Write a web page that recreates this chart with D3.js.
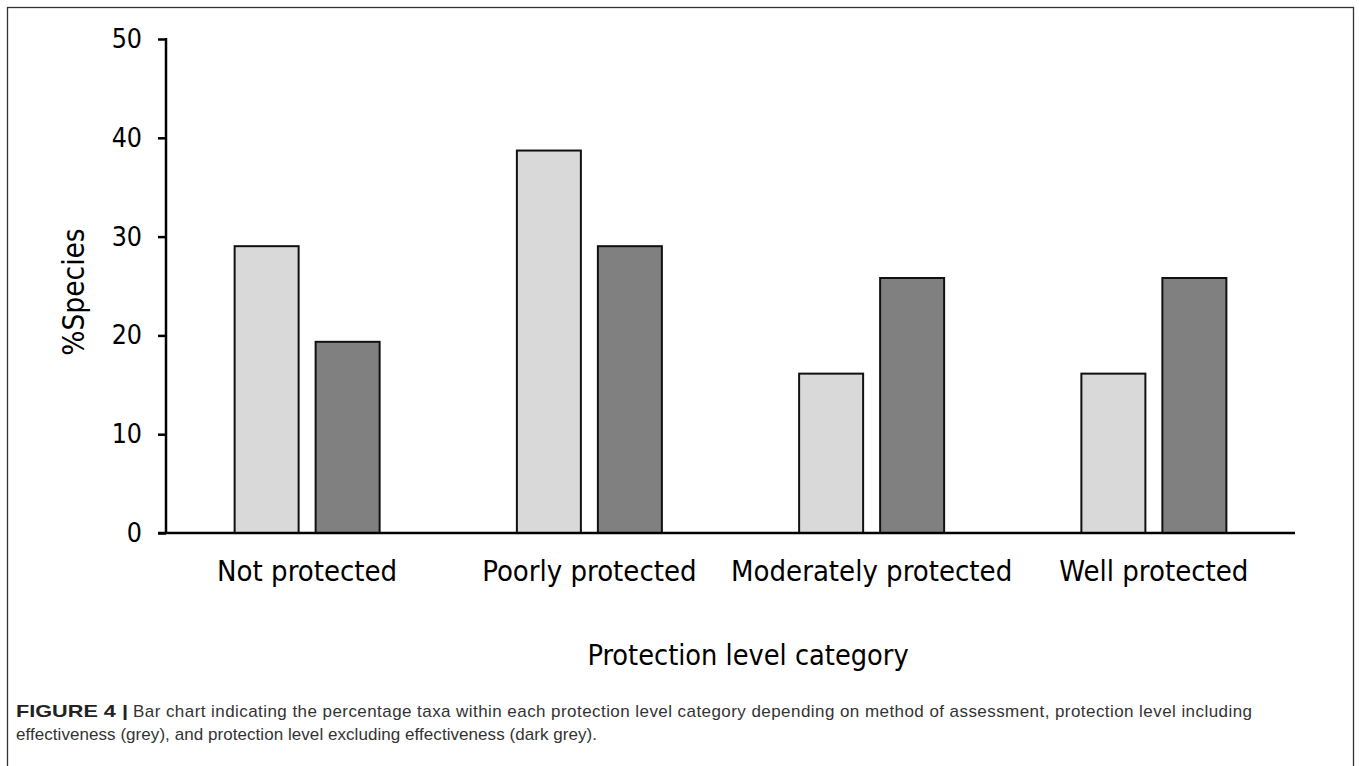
<!DOCTYPE html>
<html><head><meta charset="utf-8">
<script src="https://cdn.jsdelivr.net/npm/d3@7"></script>
<style>
body{margin:0;background:#fff;}
svg{display:block;}
.ax text{font-family:"DejaVu Sans Condensed","DejaVu Sans",sans-serif;}
</style></head>
<body><svg id="c" width="1359" height="766"></svg>
<script>
const categories = ["Not protected","Poorly protected","Moderately protected","Well protected"];
const seriesNames = ["Including effectiveness","Excluding effectiveness"];
const including = [29.03, 38.71, 16.13, 16.13];
const excluding = [19.35, 29.03, 25.81, 25.81];
const yTicks = [0,10,20,30,40,50];
const colors = ["#d9d9d9","#808080"];

const svg = d3.select("#c");
// frame
svg.append("rect").attr("x",7.5).attr("y",7.5).attr("width",1346).attr("height",780)
  .attr("fill","none").attr("stroke","#333").attr("stroke-width",1.3);

const x0 = 166, x1 = 1295, yTop = 39, yBot = 533;
const x = d3.scaleBand().domain(categories).range([x0,x1]).padding(0);
const y = d3.scaleLinear().domain([0,50]).range([yBot,yTop]);
const barW = 64, gap = 17;

const g = svg.append("g");
categories.forEach((c,i)=>{
  const cx = x(c) + x.bandwidth()/2;
  const vals = [including[i], excluding[i]];
  vals.forEach((v,j)=>{
    const bx = j===0 ? cx - gap/2 - barW : cx + gap/2;
    g.append("rect").attr("x",bx).attr("y",y(v)).attr("width",barW).attr("height",y(0)-y(v))
      .attr("fill",colors[j]).attr("stroke","#111").attr("stroke-width",2);
  });
});

// y axis
const ya = svg.append("g").attr("class","ax").attr("transform",`translate(${x0},0)`)
  .call(d3.axisLeft(y).tickValues(yTicks).tickSize(8).tickPadding(16).tickFormat(d3.format("d")));
ya.select(".domain").attr("stroke","#000").attr("stroke-width",2.5).attr("d",`M0,${yTop-1}V${yBot}`);
ya.selectAll(".tick line").attr("stroke","#000").attr("stroke-width",2.5);
ya.selectAll(".tick text").attr("font-size",26.5).attr("fill","#000");

// x axis
const xa = svg.append("g").attr("class","ax").attr("transform",`translate(0,${yBot})`)
  .call(d3.axisBottom(x).tickSize(0).tickPadding(27));
xa.select(".domain").attr("stroke","#000").attr("stroke-width",2.5).attr("d",`M${x0-8},0H${x1}`);
xa.selectAll(".tick text").attr("font-size",29).attr("fill","#000");

// axis titles
svg.append("text").attr("class","ax").attr("transform","translate(84,292) rotate(-90)")
  .attr("text-anchor","middle").attr("font-family","DejaVu Sans Condensed, DejaVu Sans, sans-serif")
  .attr("font-size",29.5).attr("fill","#000").text("%Species");
svg.append("text").attr("x",748).attr("y",665).attr("text-anchor","middle")
  .attr("font-family","DejaVu Sans Condensed, DejaVu Sans, sans-serif")
  .attr("font-size",28.6).attr("fill","#000").text("Protection level category");

// caption
const cap = svg.append("text").attr("font-family","Liberation Sans, Arial, sans-serif").attr("font-size",17).attr("fill","#333");
const l1 = cap.append("tspan").attr("x",16).attr("y",717);
l1.append("tspan").attr("font-weight","bold").attr("fill","#222").attr("textLength",112).attr("lengthAdjust","spacingAndGlyphs").text("FIGURE 4 |");
l1.append("tspan").attr("x",133).attr("textLength",1119).attr("lengthAdjust","spacing")
  .text("Bar chart indicating the percentage taxa within each protection level category depending on method of assessment, protection level including");
cap.append("tspan").attr("x",16).attr("y",740).attr("textLength",581).attr("lengthAdjust","spacing")
  .text("effectiveness (grey), and protection level excluding effectiveness (dark grey).");
</script></body></html>
